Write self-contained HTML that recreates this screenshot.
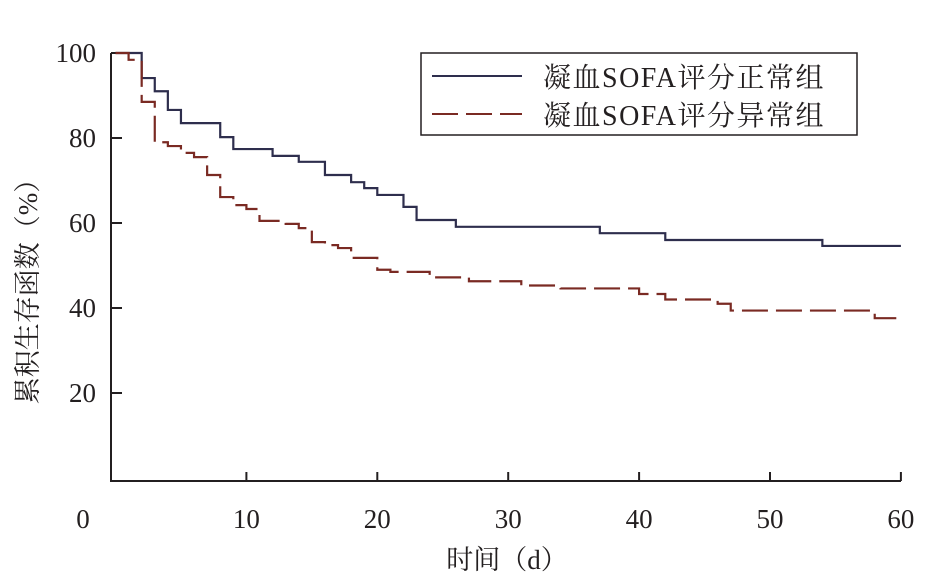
<!DOCTYPE html>
<html><head><meta charset="utf-8"><style>
body{margin:0;background:#fff}
svg text{font-family:"Liberation Serif","Noto Serif CJK SC",serif;fill:#231f20}
</style></head><body>
<svg id="chart" width="934" height="581" xmlns="http://www.w3.org/2000/svg">
<g id="axes"></g><g id="series"></g>
<g>
<rect x="421" y="53" width="436" height="82" fill="#fff" stroke="#231f20" stroke-width="1.5"/>
<line x1="432" y1="76" x2="522" y2="76" stroke="#2e2e4d" stroke-width="2"/>
<text x="543" y="87" font-size="28" letter-spacing="1.5">凝血SOFA评分正常组</text>
<line x1="432" y1="114" x2="522" y2="114" stroke="#7a2a23" stroke-width="2" stroke-dasharray="26,8"/>
<text x="543" y="125" font-size="28" letter-spacing="1.5">凝血SOFA评分异常组</text>
</g>
<text transform="translate(37,285) rotate(-90)" text-anchor="middle" font-size="27">累积生存函数（%）</text>
<text x="507" y="569" text-anchor="middle" font-size="27">时间（d）</text>
</svg>
<script>
const xTicks=[10,20,30,40,50,60];
const yTicks=[20,40,60,80,100];
const normalDays=[0,2,3,4,5,8,9,12,14,16,18,19,20,22,23,26,37,42,54,60];
const normalVals=[100,94.1,91,86.6,83.5,80.2,77.4,75.8,74.4,71.3,69.6,68.2,66.6,63.8,60.7,59.1,57.6,56,54.6,54.6];
const abnDays=[0,1,2,3,4,5,6,7,8,9,10,11,13,14,15,16,17,18,20,21,24,27,31,34,40,42,46,47,58,60];
const abnVals=[100,98.4,88.5,79,78.1,76.5,75.5,71.3,66.1,64.2,63.3,60.5,59.8,58.8,55.5,54.8,54.1,51.8,49,48.5,47.2,46.3,45.3,44.6,43.3,42,41,39.4,37.6,37.6];
const X=d=>115.5+13.09*d, Y=v=>478-4.25*v;
const NS='http://www.w3.org/2000/svg';
const ax=document.getElementById('axes'), se=document.getElementById('series');
function mk(tag,attrs,parent){const e=document.createElementNS(NS,tag);for(const k in attrs)e.setAttribute(k,attrs[k]);parent.appendChild(e);return e;}
let a=mk('path',{d:`M111,53 V481 H901`,fill:'none',stroke:'#231f20','stroke-width':2},ax);


yTicks.forEach(v=>{
 const l=mk('line',{x1:111,x2:122,y1:Y(v),y2:Y(v),stroke:'#231f20','stroke-width':2},ax);
 
 
 const t=mk('text',{x:96,y:Y(v)+9,'text-anchor':'end','font-size':27},ax);
 
 
 t.textContent=v;
});
xTicks.forEach(d=>{
 const l=mk('line',{x1:X(d),x2:X(d),y1:472,y2:481,stroke:'#231f20','stroke-width':2},ax);
 
 
 const t=mk('text',{x:X(d),y:528,'text-anchor':'middle','font-size':27},ax);
 
 
 t.textContent=d;
});
const z=mk('text',{x:83,y:528,'text-anchor':'middle','font-size':27},ax);


z.textContent='0';
function step(days,vals){let d=`M${X(days[0])},${Y(vals[0])}`;for(let i=1;i<days.length;i++){d+=` H${X(days[i])} V${Y(vals[i])}`;}return d;}
const p1=mk('path',{d:step(normalDays,normalVals),fill:'none',stroke:'#2e2e4d','stroke-width':2.2},se);


const p2=mk('path',{d:step(abnDays,abnVals),fill:'none',stroke:'#7a2a23','stroke-width':2.2,'stroke-dasharray':'26,8'},se);


</script>
</body></html>
